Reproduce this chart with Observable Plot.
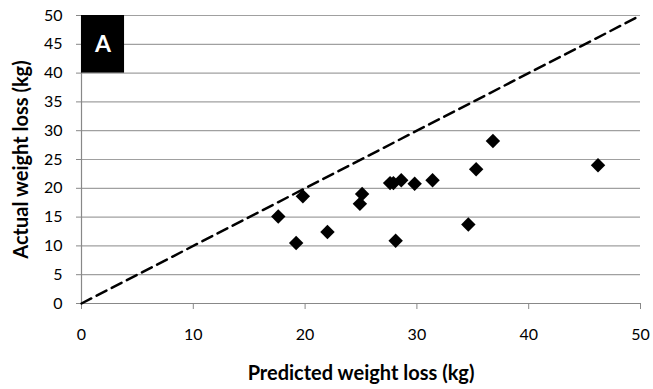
<!DOCTYPE html>
<html>
<head>
<meta charset="utf-8">
<script src="https://cdn.jsdelivr.net/npm/d3@7"></script>
<script src="https://cdn.jsdelivr.net/npm/@observablehq/plot@0.6"></script>
<style>
  html, body { margin: 0; padding: 0; background: #fff; }
  #chart svg { display: block; }
  g[aria-label="x-axis label"], g[aria-label="y-axis label"] { font-weight: bold; font-size: 20px; }
</style>
</head>
<body>
<div id="chart"></div>
<script>
// Predicted vs actual weight loss (kg)
const predicted = [17.6, 19.2, 19.8, 22.0, 25.1, 24.9, 27.6, 27.9, 28.6, 28.1, 29.8, 31.4, 34.6, 35.3, 36.8, 46.2];
const actual    = [15.1, 10.5, 18.6, 12.4, 19.0, 17.3, 20.9, 20.9, 21.4, 10.9, 20.8, 21.4, 13.7, 23.3, 28.2, 24.0];
const xTicks = [0, 10, 20, 30, 40, 50];
const yTicks = [0, 5, 10, 15, 20, 25, 30, 35, 40, 45, 50];
const identityLine = [0, 50];
const panelLabel = ["A"];

const points = predicted.map((p, i) => ({predicted: p, actual: actual[i]}));

const chart = Plot.plot({
  width: 653,
  height: 389,
  marginLeft: 81,
  marginRight: 13,
  marginTop: 15,
  marginBottom: 86,
  style: {fontFamily: "Lato, 'Open Sans', sans-serif", fontSize: "16px", color: "#000"},
  x: {domain: [0, 50]},
  y: {domain: [0, 50]},
  marks: [
    Plot.gridY(yTicks, {stroke: "#a0a0a0", strokeOpacity: 1, strokeWidth: 1.2}),
    Plot.ruleX([0], {stroke: "#888", strokeWidth: 1.2}),
    Plot.ruleY([0], {stroke: "#888", strokeWidth: 1.2}),
    Plot.axisY({ticks: yTicks, tickSize: 5, tickPadding: 14, stroke: "#888", label: "Actual weight loss (kg)", labelAnchor: "center", labelArrow: "none", labelOffset: 68}),
    Plot.axisX({ticks: xTicks, tickSize: 6, tickPadding: 19, stroke: "#888", label: "Predicted weight loss (kg)", labelAnchor: "center", labelArrow: "none", labelOffset: 76}),
    Plot.rect(panelLabel, {x1: 0, x2: 3.85, y1: 40, y2: 50, fill: "#000", inset: 0}),
    Plot.text(panelLabel, {x: 1.925, y: 45, text: d => d, fill: "#fff", fontSize: 23, fontWeight: "bold"}),
    Plot.line(identityLine, {x: d => d, y: d => d, stroke: "#000", strokeWidth: 2.5, strokeDasharray: "11,6"}),
    Plot.dot(points, {x: "predicted", y: "actual", symbol: "diamond2", r: 6.5, fill: "#000", stroke: "none"})
  ]
});
document.getElementById("chart").append(chart);
</script>
</body>
</html>
